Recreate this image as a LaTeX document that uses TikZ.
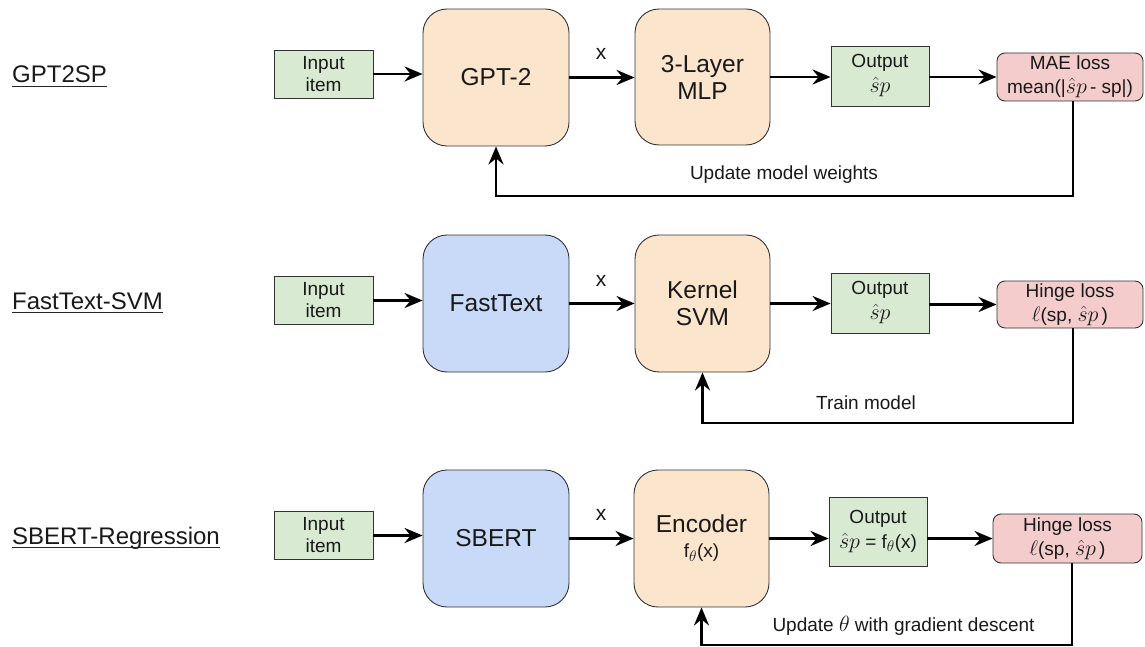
\documentclass[tikz,border=0pt]{standalone}
\usepackage{fix-cm}
\usepackage{fontspec}
\setmainfont{Liberation Sans}
\usetikzlibrary{arrows.meta,calc}
\definecolor{orangefill}{HTML}{FCE5CD}
\definecolor{bluefill}{HTML}{C9DAF8}
\definecolor{greenfill}{HTML}{D9EAD3}
\definecolor{pinkfill}{HTML}{F4CCCC}
\definecolor{edge}{HTML}{333333}
\newcommand{\sphat}{{\fontsize{22}{22}\selectfont$\hat{s}p$}}
\newcommand{\fth}{f{\fontsize{22}{22}\selectfont$_\theta$}(x)}
\begin{document}
\begin{tikzpicture}[x=1pt,y=-1pt,
  every node/.style={text=black!90, font=\fontsize{19}{22}\selectfont, align=center, inner sep=0pt},
  greenbox/.style={draw=edge, line width=0.9pt, fill=greenfill, minimum width=99pt, minimum height=48pt},
  outbox/.style={draw=edge, line width=0.9pt, fill=greenfill, minimum width=98pt, minimum height=60pt, font=\fontsize{19}{25}\selectfont},
  bigbox/.style={draw=edge, line width=0.9pt, rounded corners=24pt, minimum width=146pt, minimum height=137pt, font=\fontsize{24.5}{27}\selectfont},
  midbox/.style={draw=edge, line width=0.9pt, rounded corners=24pt, fill=orangefill, minimum width=135pt, minimum height=136pt, font=\fontsize{24.5}{27}\selectfont},
  lossbox/.style={draw=edge, line width=0.9pt, rounded corners=8pt, fill=pinkfill, minimum width=146pt, minimum height=48pt, font=\fontsize{19}{24}\selectfont},
  title/.style={anchor=base west, font=\fontsize{24}{27}\selectfont},
  xlab/.style={font=\fontsize{21}{24}\selectfont},
  fblab/.style={font=\fontsize{19}{22}\selectfont},
  conn/.style={line width=2.8pt, draw=black, -{Stealth[length=18pt,width=15pt,inset=6pt]}},
  uline/.style={line width=1.3pt, draw=black!85},
]
\useasboundingbox (0,0) rectangle (1145,647);

% titles
\node[title] (t1) at (12,83) {GPT2SP};
\node[title] (t2) at (12,309) {FastText-SVM};
\node[title] (t3) at (12,544) {SBERT-Regression};
\draw[uline] ([yshift=-3.5pt]t1.base west) -- ([yshift=-3.5pt]t1.base east);
\draw[uline] ([yshift=-3.5pt]t2.base west) -- ([yshift=-3.5pt]t2.base east);
\draw[uline] ([yshift=-3.5pt]t3.base west) -- ([yshift=-3.5pt]t3.base east);

% row 1
\node[greenbox] (in1) at (323.5,74) {Input\\item};
\node[bigbox, fill=orangefill] (gpt) at (496,77.5) {GPT-2};
\node[midbox] (mlp) at (702.5,77) {3-Layer\\MLP};
\node[outbox] (out1) at (880,76) {Output\\\sphat};
\node[lossbox] (mae) at (1070,77) {MAE loss\\mean(|\sphat\,- sp|)};
\node[xlab] (x1) at (601,54) {x};
\draw[conn] (in1.east) -- (in1.east -| gpt.west);
\draw[conn] (gpt.east) -- (gpt.east -| mlp.west);
\draw[conn] (mlp.east) -- (mlp.east -| out1.west);
\draw[conn] (out1.east |- mae.west) -- (mae.west);
\coordinate (c1) at (1073,196);
\draw[conn] (mae.south -| c1) -- (c1) -- (c1 -| gpt.south) -- (gpt.south);
\node[fblab] (l1) at (784,175) {Update model weights};

% row 2
\node[greenbox] (in2) at (323.5,300.5) {Input\\item};
\node[bigbox, fill=bluefill] (ft) at (496,303.5) {FastText};
\node[midbox, minimum height=137pt] (svm) at (702.5,303.5) {Kernel\\SVM};
\node[outbox] (out2) at (880,303) {Output\\\sphat};
\node[lossbox, minimum height=47pt] (hinge2) at (1070,304.5) {Hinge loss\\{\fontsize{21}{21}\selectfont$\ell$}(sp, \sphat\,)};
\node[xlab] (x2) at (601,281) {x};
\draw[conn] (in2.east) -- (in2.east -| ft.west);
\draw[conn] (ft.east) -- (ft.east -| svm.west);
\draw[conn] (svm.east) -- (svm.east -| out2.west);
\draw[conn] (out2.east |- hinge2.west) -- (hinge2.west);
\coordinate (c2) at (1073,423);
\draw[conn] (hinge2.south -| c2) -- (c2) -- (c2 -| svm.south) -- (svm.south);
\node[fblab] (l2) at (866,403) {Train model};

% row 3
\node[greenbox] (in3) at (323.5,535.5) {Input\\item};
\node[bigbox, fill=bluefill] (sb) at (496,538.5) {SBERT};
\node[midbox, minimum height=137pt] (enc) at (701.5,538.5) {Encoder\\[-2pt]{\fontsize{19}{22}\selectfont \fth}};
\node[outbox, minimum height=69pt] (out3) at (878,531.5) {Output\\\sphat{} = \fth};
\node[lossbox, minimum width=149pt, minimum height=49pt] (hinge3) at (1067.5,538.5) {Hinge loss\\{\fontsize{21}{21}\selectfont$\ell$}(sp, \sphat\,)};
\node[xlab] (x3) at (601,515) {x};
\draw[conn] (in3.east) -- (in3.east -| sb.west);
\draw[conn] (sb.east) -- (sb.east -| enc.west);
\draw[conn] (enc.east) -- (enc.east -| out3.west);
\draw[conn] (out3.east |- hinge3.west) -- (hinge3.west);
\coordinate (c3) at (1072,645);
\draw[conn] (hinge3.south -| c3) -- (c3) -- (c3 -| enc.south) -- (enc.south);
\node[fblab] (l3) at (903.5,626) {Update {\fontsize{22}{22}\selectfont$\theta$} with gradient descent};
\end{tikzpicture}
\end{document}
